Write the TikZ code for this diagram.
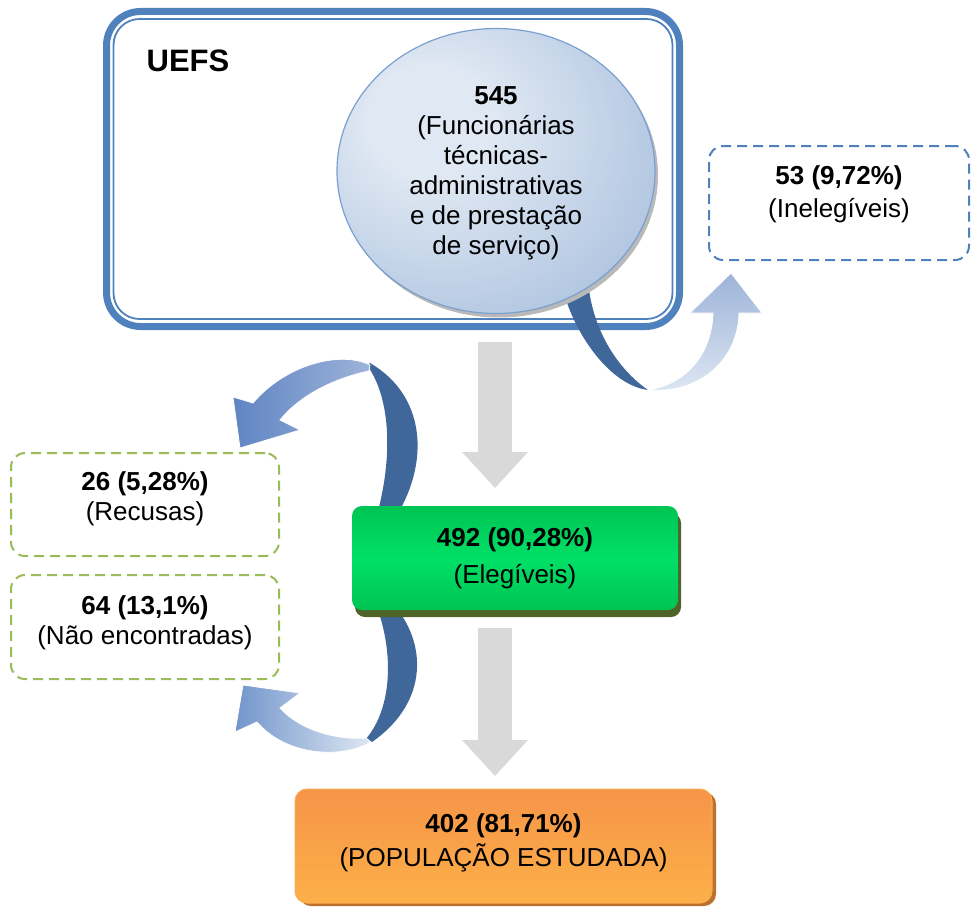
\documentclass[tikz,border=0pt]{standalone}
\usepackage{fontspec}
\setmainfont{Liberation Sans}
\usepackage{tikz}
\usetikzlibrary{arrows.meta,shapes.geometric,shadows}
\definecolor{uefsblue}{RGB}{79,129,189}
\definecolor{bandblue}{RGB}{64,103,154}
\definecolor{ellight}{RGB}{223,232,243}
\definecolor{eldark}{RGB}{163,187,219}
\definecolor{ellborder}{RGB}{122,160,207}
\definecolor{dashgreen}{RGB}{155,187,89}
\definecolor{arrowgray}{RGB}{217,217,217}
\definecolor{eligtop}{RGB}{0,196,83}
\definecolor{eligmid}{RGB}{0,224,102}
\definecolor{eligshadow}{RGB}{79,98,40}
\definecolor{poptop}{RGB}{246,148,72}
\definecolor{popbot}{RGB}{252,176,72}
\definecolor{popborder}{RGB}{250,172,82}
\definecolor{popshadow}{RGB}{190,112,46}
\definecolor{ribbonmid}{RGB}{95,133,194}
\definecolor{ribbonsoft}{RGB}{114,149,203}
\definecolor{ribbonpale}{RGB}{157,179,217}
\definecolor{ribbonlight}{RGB}{222,231,243}
\pgfdeclareradialshading{ellshade}{\pgfpoint{-12bp}{10bp}}{color(0bp)=(ellight); color(10bp)=(ellight); color(42bp)=(eldark); color(75bp)=(eldark)}

\begin{document}
\begin{tikzpicture}[x=1pt,y=-1pt,font=\fontsize{26}{30}\selectfont]
\tikzset{uefsbox/.style = {draw=uefsblue, line width=7pt, rounded corners=34pt, minimum width=573pt, minimum height=315pt}}
\tikzset{uefsline/.style = {draw=uefsblue, line width=1.8pt, rounded corners=26pt, minimum width=559pt, minimum height=300pt}}
\tikzset{rim/.style = {shape=ellipse, fill=gray!55, minimum width=318pt, minimum height=285pt}}
\tikzset{ellnode/.style = {shape=ellipse, draw=ellborder, line width=1.2pt, shade, shading=ellshade, minimum width=318pt, minimum height=285pt, inner sep=0pt, align=center}}
\tikzset{dashbox/.style = {draw, fill=white, dash pattern=on 10pt off 6pt, line width=2pt, rounded corners=14pt, align=center}}
\tikzset{eligbox/.style = {top color=eligtop, bottom color=eligtop, middle color=eligmid, rounded corners=10pt, minimum width=326pt, minimum height=104pt, align=center, drop shadow={shadow xshift=3pt, shadow yshift=-7pt, fill=eligshadow, opacity=1}}}
\tikzset{popbox/.style = {draw=popborder, line width=1pt, top color=poptop, bottom color=popbot, rounded corners=12pt, minimum width=417pt, minimum height=114pt, align=center, drop shadow={shadow xshift=4pt, shadow yshift=-3pt, fill=popshadow, opacity=1}}}
\tikzset{bigarrow/.style = {draw=arrowgray, line width=34pt, -{Triangle[width=66pt,length=36pt,line width=0pt]}}}
\tikzset{band/.style = {fill=bandblue}}
\tikzset{ribbon/.style = {draw=white, line width=0.8pt}}
\useasboundingbox (0,0) rectangle (971,907);

\node[uefsbox] (uefs) at (393,169) {};
\node[uefsline] (uefsin) at (uefs.center) {};
\node[font=\fontsize{31}{36}\selectfont\bfseries] (uefslabel) at (188,61) {UEFS};

\fill[band] (563,290) .. controls (575,335) and (610,385) .. (648,390) .. controls (622,372) and (596,338) .. (589,290) -- cycle;
\node[rim] (funcrim) at (499,175) {};
\node[ellnode, text depth=0pt] (func) at (496,171) {\textbf{545}\\(Funcionárias\\técnicas-\\administrativas\\e de prestação\\de serviço)};
\coordinate (inelTip) at (731,273);
\path[ribbon, top color=ribbonpale, bottom color=ribbonlight] (648,390) .. controls (700,394) and (738,360) .. (739,313) -- (762,313) -- (inelTip) -- (690,313) -- (713,313) .. controls (712,352) and (688,384) .. (648,390) -- cycle;
\node[dashbox, draw=uefsblue, minimum width=260pt, minimum height=114pt, text depth=22pt] (inel) at (839,203) {\textbf{53 (9,72\%)}\\[3pt](Inelegíveis)};

\coordinate (down1a) at (495,342);
\coordinate (down1b) at (495,488);
\draw[bigarrow] (down1a) -- (down1b);

\fill[band] (367,365) .. controls (392,400) and (392,460) .. (377,515) -- (397,515) .. controls (430,460) and (425,395) .. (370,363) -- cycle;
\fill[band] (378,610) .. controls (395,660) and (390,712) .. (365,740) -- (372,742) .. controls (425,705) and (428,650) .. (398,610) -- cycle;
\node[eligbox] (elig) at (515,558) {\textbf{492 (90,28\%)}\\[7pt](Elegíveis)};

\coordinate (recTip) at (240,448);
\path[ribbon, left color=ribbonmid, right color=ribbonpale] (370,365) .. controls (340,350) and (285,365) .. (253,403) -- (233,397) -- (recTip) -- (300,430) -- (280,420) .. controls (300,395) and (335,378) .. (369,371) -- cycle;
\coordinate (naoTip) at (243,685);
\path[ribbon, left color=ribbonsoft, right color=ribbonlight] (371,742) .. controls (340,760) and (285,755) .. (257,722) -- (235,732) -- (naoTip) -- (300,693) -- (280,708) .. controls (300,730) and (335,740) .. (366,738) -- cycle;

\node[dashbox, draw=dashgreen, minimum width=268pt, minimum height=103pt, text depth=16pt] (recusa) at (145,504.5) {\textbf{26 (5,28\%)}\\(Recusas)};
\node[dashbox, draw=dashgreen, minimum width=268pt, minimum height=104pt, text depth=14pt] (naoenc) at (145,627) {\textbf{64 (13,1\%)}\\(Não encontradas)};

\coordinate (down2a) at (495,628);
\coordinate (down2b) at (495,776);
\draw[bigarrow] (down2a) -- (down2b);

\node[popbox, text depth=11pt] (pop) at (503.5,846) {\textbf{402 (81,71\%)}\\[4pt](POPULAÇÃO ESTUDADA)};
\end{tikzpicture}
\end{document}
